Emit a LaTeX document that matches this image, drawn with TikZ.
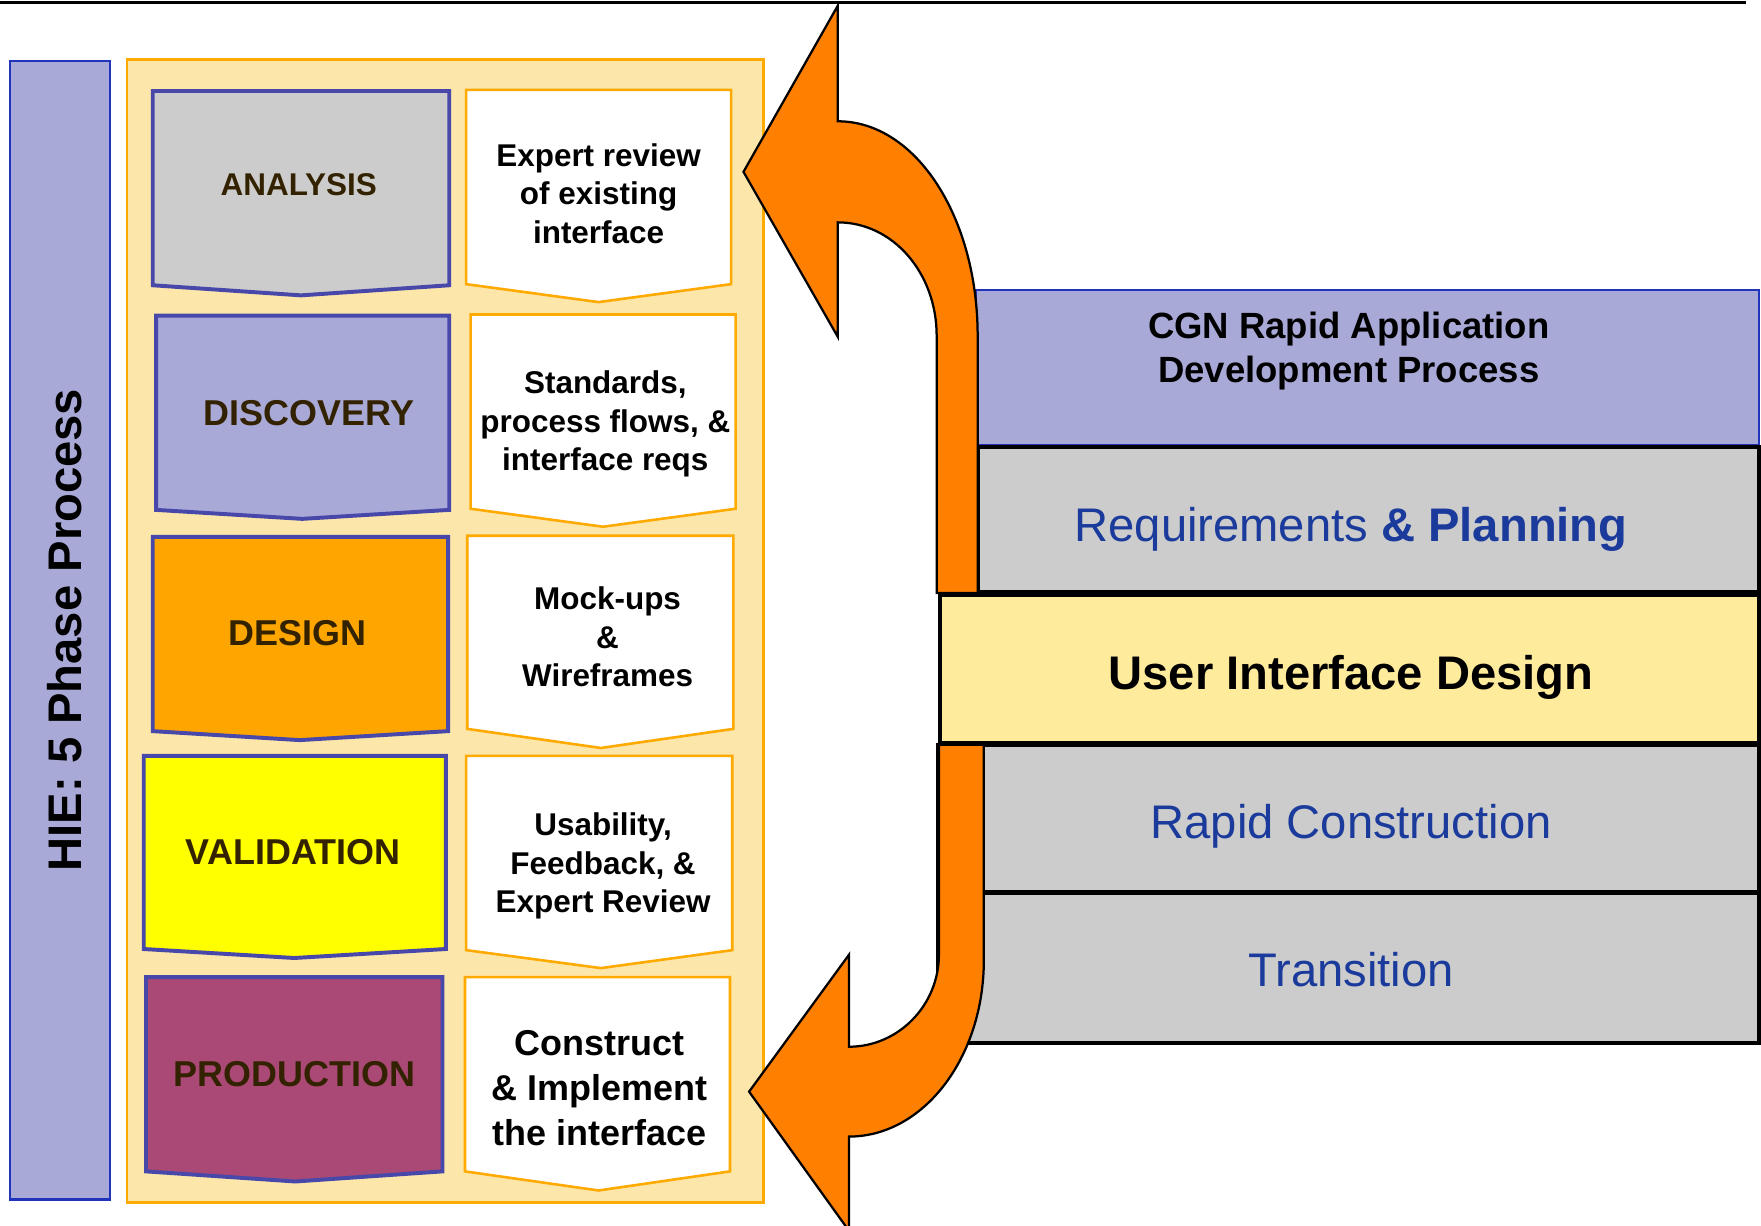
\documentclass[tikz,border=0pt]{standalone}
\usepackage{fontspec}
\setmainfont{Liberation Sans}
\definecolor{lavender}{HTML}{A9A9D8}
\definecolor{phaseblue}{HTML}{4848AA}
\definecolor{barblue}{HTML}{2233BB}
\definecolor{boxgray}{HTML}{CCCCCC}
\definecolor{phaseorange}{HTML}{FFA500}
\definecolor{phaseyellow}{HTML}{FFFF00}
\definecolor{phasemaroon}{HTML}{AA4876}
\definecolor{paleyellow}{HTML}{FCE6AA}
\definecolor{uiyellow}{HTML}{FFEB9C}
\definecolor{borderorange}{HTML}{FFAA00}
\definecolor{arroworange}{HTML}{FF8000}
\definecolor{darkbrown}{HTML}{332200}
\definecolor{textblue}{HTML}{1A3A9C}
\newcommand{\chevron}[7]{\filldraw[#1] (#2,#4) -- (#3,#4) -- (#3,#5) -- (#6,#7) -- (#2,#5) -- cycle;}
\tikzset{
  phasebox/.style={draw=phaseblue, line width=3.5pt, line join=miter},
  descbox/.style={draw=borderorange, fill=white, line width=2.3pt, line join=miter},
  phaselabel/.style={font=\bfseries\fontsize{32}{38}\selectfont, text=darkbrown, anchor=base, inner sep=0pt},
  desclabel/.style={font=\bfseries\fontsize{28}{34}\selectfont, align=center, text=black, inner sep=0pt},
  rightbox/.style={draw=black, line width=3.5pt, fill=boxgray},
  bluelabel/.style={font=\fontsize{42}{48}\selectfont, text=textblue, anchor=base, inner sep=0pt},
  arrowshape/.style={fill=arroworange, draw=black, line width=2pt, line join=miter}
}
\begin{document}
\begin{tikzpicture}[x=1pt,y=-1pt]
\useasboundingbox (0,0) rectangle (1568,1091);
% top rule
\coordinate (tl) at (0,2.5);
\coordinate (tr) at (1555,2.5);
\draw[line width=2.5pt] (tl) -- (tr);
% HIE bar
\filldraw[fill=lavender, draw=barblue, line width=2pt] (9,54) rectangle (98,1068);
\node[font=\bfseries\fontsize{42}{48}\selectfont, rotate=90, anchor=base, inner sep=0pt] (hie) at (73,561) {HIE: 5 Phase Process};
% outer container
\filldraw[fill=paleyellow, draw=borderorange, line width=2.5pt] (113,53) rectangle (680,1071);
% phases
\chevron{phasebox, fill=boxgray}{136}{400}{81}{254}{268}{263}
\chevron{descbox}{415}{651}{80}{253}{533}{269}
\chevron{phasebox, fill=lavender}{139}{400}{281}{454}{269}{462}
\chevron{descbox}{419}{655}{280}{453}{537}{469}
\chevron{phasebox, fill=phaseorange}{136}{399}{478}{651}{267}{659}
\chevron{descbox}{416}{653}{477}{649}{535}{666}
\chevron{phasebox, fill=phaseyellow}{128}{397}{673}{845}{262}{853}
\chevron{descbox}{415}{652}{673}{846}{535}{862}
\chevron{phasebox, fill=phasemaroon}{130}{394}{870}{1043}{263}{1052}
\chevron{descbox}{414}{650}{870}{1043}{533}{1060}
% phase labels
\node[phaselabel, font=\bfseries\fontsize{28}{33}\selectfont] (analysis) at (266,174) {ANALYSIS};
\node[phaselabel] (discovery) at (275,378.5) {DISCOVERY};
\node[phaselabel] (design) at (265,574.5) {DESIGN};
\node[phaselabel] (validation) at (261,769.5) {VALIDATION};
\node[phaselabel] (production) at (262,967.5) {PRODUCTION};
% description labels
\node[desclabel] (d1) at (533,172.5) {Expert review\\of existing\\interface};
\node[desclabel] (d2) at (539,377.5) {Standards,\\process flows, \&\\interface reqs};
\node[desclabel] (d3) at (541,567) {Mock-ups\\\&\\Wireframes};
\node[desclabel] (d4) at (537,771) {Usability,\\Feedback, \&\\Expert Review};
\node[desclabel, font=\bfseries\fontsize{32}{40}\selectfont] (d5) at (534,969) {Construct\\\& Implement\\the interface};
% right stack
\filldraw[fill=lavender, draw=barblue, line width=2pt] (869,258) rectangle (1566,396);
\draw[rightbox] (871,398) rectangle (1566,527);
\draw[rightbox] (835,663) rectangle (1566,794);
\draw[rightbox] (835,795) rectangle (1566,929);
% orange arrows
\filldraw[arrowshape] (662,153) -- (746,5) -- (746,108)
  .. controls (815.5,108) and (870.5,193.5) .. (870.5,299)
  -- (870.5,528) -- (834,528) -- (834,299)
  .. controls (834,243) and (795,198) .. (746,198)
  -- (746,300) -- cycle;
\filldraw[arrowshape] (667,972) -- (756,850) -- (756,932)
  .. controls (800,932) and (836,895) .. (836,850)
  -- (836,662) -- (876,662) -- (876,855)
  .. controls (876,942) and (822,1012) .. (756,1012)
  -- (756,1096) -- cycle;
% UI design box on top
\filldraw[fill=uiyellow, draw=black, line width=4pt] (837,530) rectangle (1566,662);
% right labels
\node[font=\bfseries\fontsize{32.5}{39}\selectfont, align=center, inner sep=0pt] (cgn) at (1201,312.5) {CGN Rapid Application\\Development Process};
\node[bluelabel] (req) at (1203,482) {Requirements \textbf{\& Planning}};
\node[font=\bfseries\fontsize{42}{48}\selectfont, anchor=base, inner sep=0pt] (ui) at (1203,614) {User Interface Design};
\node[bluelabel] (rapid) at (1203,747) {Rapid Construction};
\node[bluelabel] (trans) at (1203,878) {Transition};
\end{tikzpicture}
\end{document}
